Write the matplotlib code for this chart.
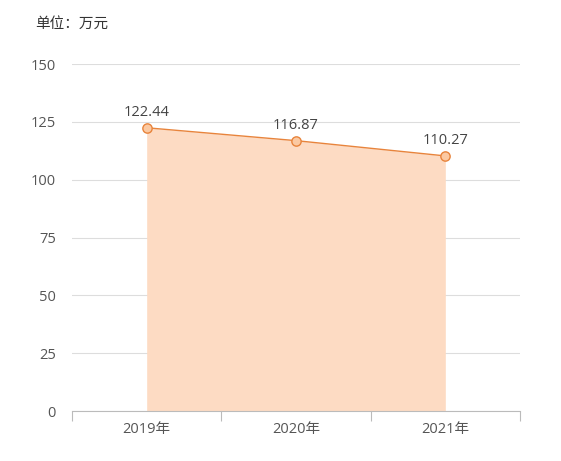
import matplotlib
matplotlib.use('Agg')
import matplotlib.pyplot as plt

plt.rcParams['font.family'] = ['Open Sans', 'Noto Sans CJK SC', 'DejaVu Sans']

years = ['2019年', '2020年', '2021年']
values = [122.44, 116.87, 110.27]
yticks = [0, 25, 50, 75, 100, 125, 150]

line_color = '#E8843C'
fill_color = '#FDDBC3'
text_color = '#555555'

fig = plt.figure(figsize=(5.61, 4.61), dpi=100)
ax = fig.add_axes([72 / 561, (461 - 411) / 461, (520 - 72) / 561, (411 - 64) / 461])

xs = [i + 0.5 for i in range(len(years))]
ax.fill_between(xs, values, 0, color=fill_color, linewidth=0, zorder=2)
ax.plot(xs, values, color=line_color, linewidth=1, zorder=3)
ax.scatter(xs, values, s=45, facecolor='#FBC9A2', edgecolor=line_color, linewidth=1, zorder=4)
for x, v in zip(xs, values):
    ax.text(x, v + 3.5, f'{v:.2f}', ha='center', va='bottom', fontsize=10.5, color='#444444')

ax.set_xlim(0, len(years))
ax.set_ylim(0, 150)
ax.set_yticks(yticks)
ax.set_yticklabels([str(t) for t in yticks], fontsize=10.5, color=text_color)
ax.tick_params(axis='y', length=0, pad=11.5)
ax.yaxis.grid(True, color='#DDDDDD', linewidth=0.8, zorder=0)

ax.set_xticks(range(len(years) + 1))
ax.set_xticklabels([])
ax.set_xticks(xs, minor=True)
ax.set_xticklabels(years, minor=True, fontsize=10.5, color=text_color)
ax.tick_params(axis='x', which='major', length=7, color='#BBBBBB', direction='out')
ax.tick_params(axis='x', which='minor', length=0, pad=8)

for side in ['top', 'right', 'left']:
    ax.spines[side].set_visible(False)
ax.spines['bottom'].set_color('#BBBBBB')
ax.set_axisbelow(True)

fig.text(35 / 561, 1 - 24 / 461, '单位：万元', fontsize=10.5, color='#333333',
         va='center', ha='left', family=['Noto Sans CJK SC', 'DejaVu Sans'])

fig.savefig('out.png', dpi=100)
